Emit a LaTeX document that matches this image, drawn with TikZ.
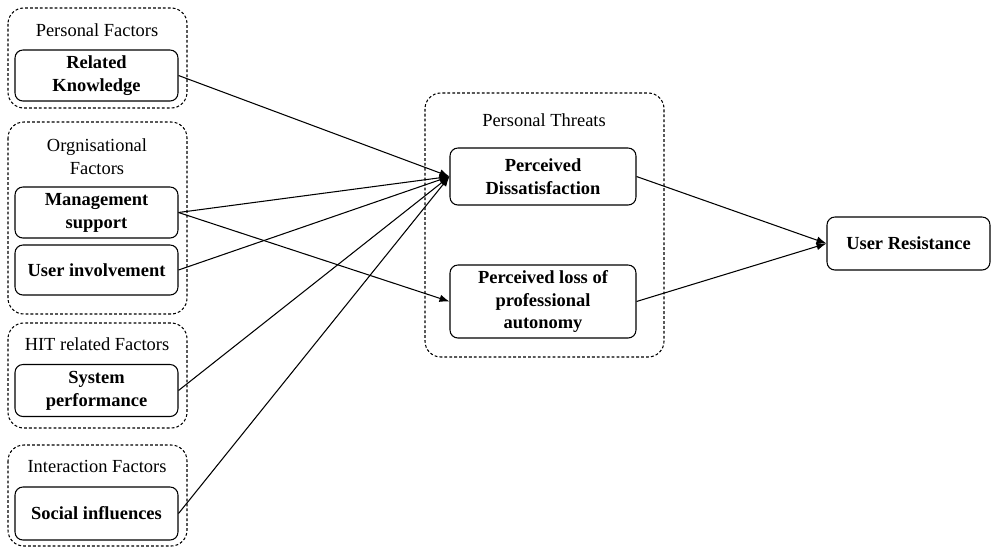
\documentclass[tikz,border=0pt]{standalone}
\usepackage{fontspec}
\setmainfont{Liberation Serif}
\usepackage{tikz}
\usetikzlibrary{positioning,arrows.meta}

\begin{document}
\begin{tikzpicture}[x=0.02cm, y=-0.02cm, line width=0.6pt,
  every node/.style={font=\fontsize{10.5}{13}\selectfont},
  factor/.style={draw, rounded corners=4.5pt, align=center, inner sep=1pt,
    font=\fontsize{10.5}{13}\selectfont\bfseries,
    minimum width=3.26cm, minimum height=1.02cm},
  group/.style={draw, dash pattern=on 1.6pt off 1.2pt, rounded corners=9pt}]
\useasboundingbox (0,0) rectangle (994,549);
% dashed groups
\draw[group] (8,8) rectangle (187,108);
\draw[group] (8,122) rectangle (187,314);
\draw[group] (8,323) rectangle (187,428);
\draw[group] (8,445) rectangle (187,546);
\draw[group] (425,93) rectangle (664,357);
% group titles
\node (PFt) at (97,30) {Personal Factors};
\node[align=center] (OFt) at (97,157) {Orgnisational\\Factors};
\node (HFt) at (97,344) {HIT related Factors};
\node (IFt) at (97,466) {Interaction Factors};
\node (PTt) at (544,120) {Personal Threats};
% factors
\node[factor] (RK) at (96.5,75.5) {Related\\Knowledge};
\node[factor] (MS) at (96.5,212.5) {Management\\support};
\node[factor, minimum height=1cm] (UI) at (96.5,270) {User involvement};
\node[factor, minimum height=1.04cm] (SP) at (96.5,390.5) {System\\performance};
\node[factor, minimum height=1.06cm] (SI) at (96.5,513.5) {Social influences};
\node[factor, minimum width=3.72cm, minimum height=1.14cm] (PD) at (543,176.5) {Perceived\\Dissatisfaction};
\node[factor, minimum width=3.72cm, minimum height=1.46cm] (PL) at (543,301.5) {Perceived loss of\\professional\\autonomy};
\node[factor, minimum height=1.06cm] (UR) at (908.5,243.5) {User Resistance};
% paths
\draw[-{Latex[length=2mm]}] (RK.east) -- (PD.west);
\draw[-{Latex[length=2mm]}] (MS.east) -- (PD.west);
\draw[-{Latex[length=2mm]}] (MS.east) -- (PL.west);
\draw[-{Latex[length=2mm]}] (UI.east) -- (PD.west);
\draw[-{Latex[length=2mm]}] (SP.east) -- (PD.west);
\draw[-{Latex[length=2mm]}] (SI.east) -- (PD.west);
\draw[-{Latex[length=2mm]}] (PD.east) -- (UR.west);
\draw[-{Latex[length=2mm]}] (PL.east) -- (UR.west);
\end{tikzpicture}
\end{document}
